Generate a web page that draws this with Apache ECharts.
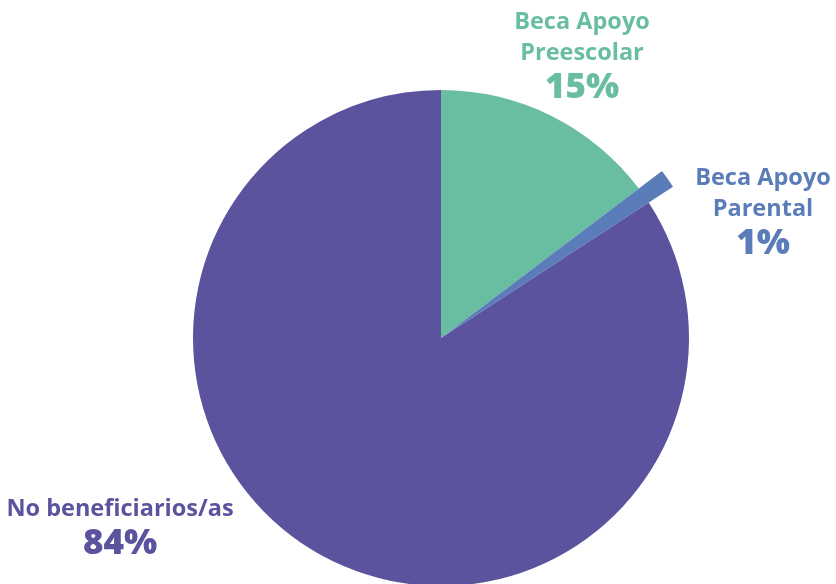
<!DOCTYPE html>
<html>
<head>
<meta charset="utf-8">
<script src="https://cdn.jsdelivr.net/npm/echarts@6/dist/echarts.min.js"></script>
<style>
  html, body { margin: 0; padding: 0; background: #fff; }
  #chart { width: 836px; height: 584px; }
</style>
</head>
<body>
<div id="chart"></div>
<script>
// datos del gráfico
var categories = ['Beca Apoyo\nPreescolar', 'Beca Apoyo\nParental', 'No beneficiarios/as'];
var values = [14.7, 1.1, 84.2];
var colors = ['#69bea2', '#5a7cb8', '#5b539d'];

// posición de cada etiqueta (centro del bloque)
var labelPos = [[582, 57], [763, 213], [120, 529]];

var chart = echarts.init(document.getElementById('chart'));

function labelText(p) {
  var lines = p.name.split('\n').map(function (l) { return '{n' + p.dataIndex + '|' + l + '}'; });
  lines.push('{p' + p.dataIndex + '|' + Math.round(p.percent) + '%}');
  return lines.join('\n');
}

var rich = {};
colors.forEach(function (c, i) {
  rich['n' + i] = { color: c, fontSize: 23.5, fontWeight: 'bold', lineHeight: 31, fontFamily: 'Open Sans', align: 'center' };
  rich['p' + i] = { color: c, fontSize: 35, fontWeight: 800, lineHeight: 39, fontFamily: 'Open Sans', align: 'center' };
});

function buildData(show) {
  return categories.map(function (name, i) {
    var on = show(i);
    return {
      name: name,
      value: values[i],
      itemStyle: { color: on ? colors[i] : 'transparent' },
      label: { show: on }
    };
  });
}

function layout(p) {
  var pos = labelPos[p.dataIndex];
  return { x: pos[0], y: pos[1], align: 'center', verticalAlign: 'middle' };
}

var common = {
  type: 'pie',
  center: [441, 338],
  startAngle: 90,
  clockwise: true,
  animation: false,
  silent: true,
  emphasis: { disabled: true },
  labelLine: { show: false },
  label: { position: 'outside', overflow: 'none', formatter: labelText, rich: rich },
  labelLayout: layout
};

chart.setOption({
  backgroundColor: '#fff',
  series: [
    Object.assign({}, common, {
      radius: [0, 248],
      data: buildData(function (i) { return i !== 1; })
    }),
    // la porción pequeña sobresale del círculo
    Object.assign({}, common, {
      radius: [0, 277],
      data: buildData(function (i) { return i === 1; })
    })
  ]
});
</script>
</body>
</html>
